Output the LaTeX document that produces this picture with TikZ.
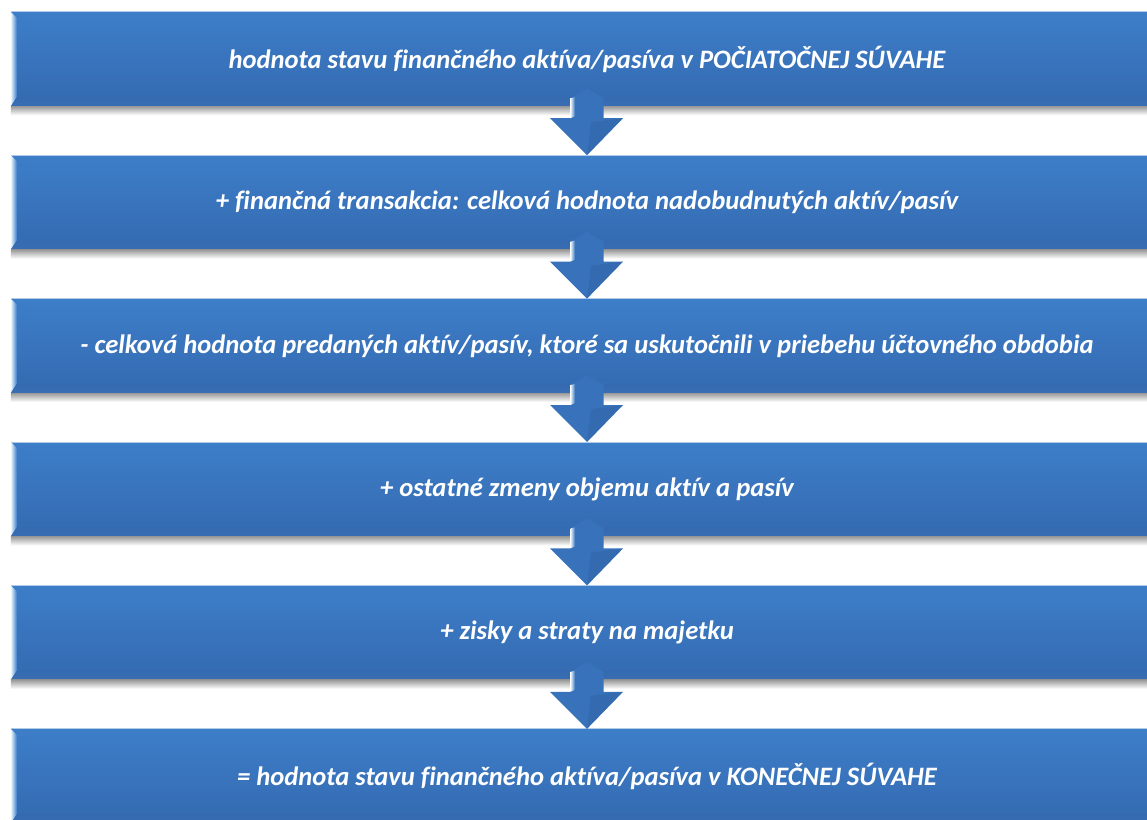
\documentclass[tikz,border=0pt]{standalone}
\usepackage{fontspec}
\newfontfamily\boxfontfam[Ligatures=NoCommon]{Carlito}
\usetikzlibrary{calc}
\definecolor{boxtop}{RGB}{61,126,201}
\definecolor{boxbot}{RGB}{52,106,176}
\definecolor{boxdark}{RGB}{58,110,180}
\definecolor{bevband}{RGB}{140,196,248}
\definecolor{bevlight}{RGB}{235,248,255}
\definecolor{arrowc}{RGB}{56,114,186}
\definecolor{arrowdark}{RGB}{44,92,156}
\tikzset{
  box/.style={minimum width=1152pt, minimum height=94pt, inner sep=0pt, text=white,
    font=\boxfontfam\bfseries\itshape\fontsize{26.6}{30}\selectfont,
    top color=boxtop, bottom color=boxbot},
  shadowfill/.style={top color=black!40, bottom color=white},
  arrowbody/.style={fill=arrowc},
}
\newcommand\bevelbox[1]{%
  \shade[left color=bevlight, right color=boxtop]
    (#1.north west) -- ([shift={(6pt,-6pt)}]#1.north west) -- ([shift={(6pt,9pt)}]#1.south west) -- (#1.south west) -- cycle;
  \shade[top color=boxbot, middle color=bevband, bottom color=boxdark]
    (#1.south west) -- ([shift={(6pt,9pt)}]#1.south west) -- ([yshift=9pt]#1.south east) -- (#1.south east) -- cycle;
  \draw[line width=1pt, white!60!boxtop] (#1.north west) -- (#1.north east);
}
\newcommand\shadowbox[1]{%
  \shade[shadowfill] (#1.south west) rectangle ([yshift=-9pt]#1.south east);
}
\newcommand\flowarrow[2]{%
  % #1 upper box, #2 lower box
  \coordinate (#1c) at ($(#1.south)$);
  \fill[arrowbody] ([yshift=18pt]#1c) -- ([shift={(-16.5pt,8pt)}]#1c) -- ([shift={(-16.5pt,-12pt)}]#1c)
     -- ([shift={(-37pt,-12pt)}]#1c) -- (#1c |- #2.north) -- ([shift={(36pt,-12pt)}]#1c)
     -- ([shift={(16.5pt,-12pt)}]#1c) -- ([shift={(16.5pt,8pt)}]#1c) -- cycle;
  \shade[left color=bevlight, right color=arrowc]
     ([shift={(-16.5pt,8pt)}]#1c) -- ([shift={(-12pt,9pt)}]#1c) -- ([shift={(-12pt,-10pt)}]#1c) -- ([shift={(-16.5pt,-12pt)}]#1c) -- cycle;
  \fill[arrowdark, opacity=0.3] ([shift={(4pt,-16pt)}]#1c) -- ([shift={(36pt,-12pt)}]#1c) -- (#1c |- #2.north) -- cycle;
}
\begin{document}
\begin{tikzpicture}[x=1pt, y=-1pt]
\useasboundingbox (0,0) rectangle (1147,819);
\fill[white] (0,0) rectangle (1147,819);
\node[box] (b1) at (587,59)    {hodnota stavu finančného aktíva/pasíva v POČIATOČNEJ SÚVAHE};
\node[box] (b2) at (587,202.4) {+ finančná transakcia: celková hodnota nadobudnutých aktív/pasív};
\node[box] (b3) at (587,345.8) {- celková hodnota predaných aktív/pasív, ktoré sa uskutočnili v priebehu účtovného obdobia};
\node[box] (b4) at (587,489.2) {+ ostatné zmeny objemu aktív a pasív};
\node[box] (b5) at (587,632.6) {+ zisky a straty na majetku};
\node[box] (b6) at (587,776)   {= hodnota stavu finančného aktíva/pasíva v KONEČNEJ SÚVAHE};
\foreach \b in {b1,b2,b3,b4,b5,b6} {\bevelbox{\b}}
\foreach \b in {b1,b2,b3,b4,b5} {\shadowbox{\b}}
\flowarrow{b1}{b2}
\flowarrow{b2}{b3}
\flowarrow{b3}{b4}
\flowarrow{b4}{b5}
\flowarrow{b5}{b6}
\end{tikzpicture}
\end{document}
